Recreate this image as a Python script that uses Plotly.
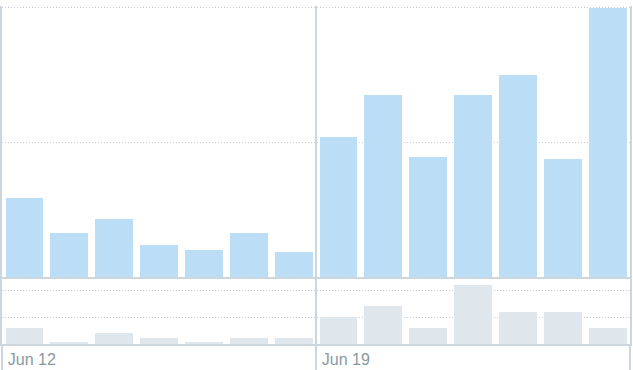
import plotly.graph_objects as go
import pandas as pd

days = pd.date_range("2016-06-12", periods=14, freq="D")
day_centers = [d + pd.Timedelta(hours=12) for d in days]

impressions = [59, 33, 43, 24, 20, 33, 19, 104, 135, 89, 135, 150, 88, 200]
engagements = [3, 0.2, 2, 1, 0.2, 1, 1, 5, 7, 3, 11, 6, 6, 3]

tick_dates = ["2016-06-12", "2016-06-19", "2016-06-26"]
tick_labels = ["Jun 12", "Jun 19", ""]

BAR_TOP = "#bbddf5"
BAR_BOTTOM = "#dfe6ec"
LINE = "#ccd6dd"
GRID = "#c4ccd3"
LABEL = "#8899a6"

bar_width = 0.844 * 86400000

fig = go.Figure()
fig.add_trace(go.Bar(x=day_centers, y=impressions, width=bar_width,
                     marker=dict(color=BAR_TOP, line=dict(width=0)),
                     xaxis="x", yaxis="y", showlegend=False))
fig.add_trace(go.Bar(x=day_centers, y=engagements, width=bar_width,
                     marker=dict(color=BAR_BOTTOM, line=dict(width=0)),
                     xaxis="x2", yaxis="y2", showlegend=False))

xr = ["2016-06-12", "2016-06-26"]
H = 370
t, b = 6, 25
plot_h = H - t - b
top_dom = [(345 - 278) / plot_h, 1]
bot_dom = [0, (345 - 279) / plot_h]
top_max = 200 * (278 - t) / (278 - 8)

fig.update_layout(
    width=633, height=370,
    margin=dict(l=2, r=1, t=t, b=b, pad=0),
    paper_bgcolor="white", plot_bgcolor="white",
    bargap=0,
    xaxis=dict(type="date", range=xr, domain=[0, 1], anchor="y",
               tickvals=tick_dates, showticklabels=False, ticks="",
               showgrid=True, gridcolor=LINE, gridwidth=2,
               showline=True, linecolor=LINE, linewidth=2,
               zeroline=False, matches="x2"),
    yaxis=dict(domain=top_dom, range=[0, top_max], anchor="x",
               tickvals=[100, 200], showticklabels=False,
               showgrid=True, gridcolor=GRID, gridwidth=1, griddash="1px,2px",
               zeroline=False, showline=True, mirror=True,
               linecolor=LINE, linewidth=2),
    xaxis2=dict(type="date", range=xr, domain=[0, 1], anchor="y2",
                tickvals=tick_dates, ticktext=tick_labels,
                ticks="outside", ticklen=25, tickwidth=2, tickcolor=LINE,
                ticklabelposition="outside right", ticklabelstandoff=0,
                ticklabelshift=4,
                tickfont=dict(family="Liberation Sans, Arial", size=16, color=LABEL),
                showgrid=True, gridcolor=LINE, gridwidth=2,
                showline=True, linecolor=LINE, linewidth=1.5,
                zeroline=False),
    yaxis2=dict(domain=bot_dom, range=[0, 12.22], anchor="x2",
                tickvals=[5, 10], showticklabels=False,
                showgrid=True, gridcolor=GRID, gridwidth=1, griddash="1px,2px",
                zeroline=False, showline=True, mirror=True,
                linecolor=LINE, linewidth=2),
)

fig.write_html("out.html")
